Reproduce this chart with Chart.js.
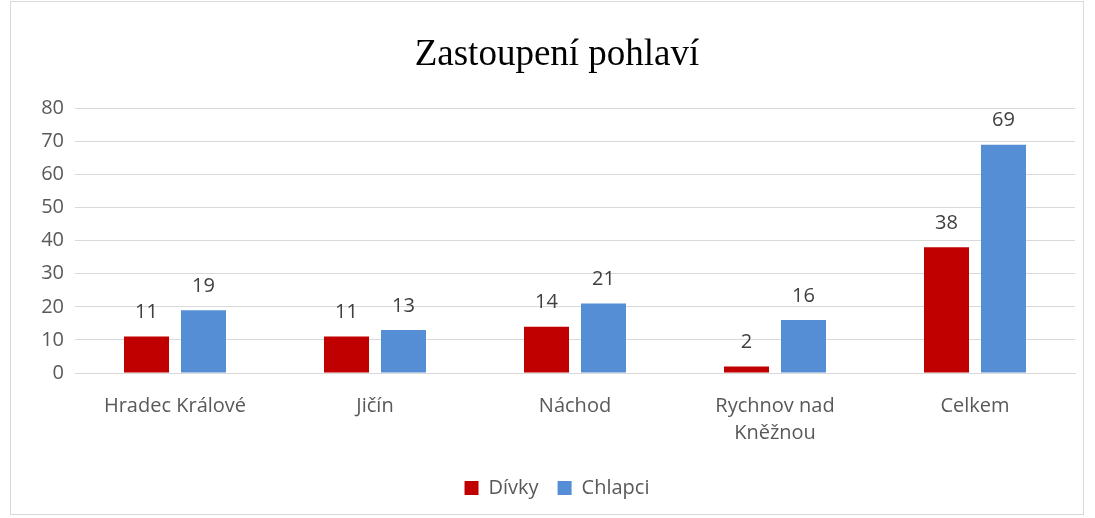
<!DOCTYPE html>
<html>
<head>
<meta charset="utf-8">
<script src="https://cdn.jsdelivr.net/npm/chart.js@4"></script>
<style>
  html, body { margin: 0; padding: 0; background: #ffffff; }
  #wrap { position: absolute; left: 0; top: 0; width: 1095px; height: 518px; }
  #frame { position: absolute; left: 10px; top: 1px; width: 1074px; height: 514px; border: 1px solid #d9d9d9; box-sizing: border-box; pointer-events: none; }
</style>
</head>
<body>
<div id="wrap">
  <canvas id="c" width="1095" height="518"></canvas>
  <div id="frame"></div>
</div>
<script>
const categories = [["Hradec Králové"], ["Jičín"], ["Náchod"], ["Rychnov nad", "Kněžnou"], ["Celkem"]];
const divky = [11, 11, 14, 2, 38];
const chlapci = [19, 13, 21, 16, 69];
const yTicks = [0, 10, 20, 30, 40, 50, 60, 70, 80];
const chartTitle = "Zastoupení pohlaví";

const labelFont = '"Open Sans", "Liberation Sans", sans-serif';

const valueLabels = {
  id: 'valueLabels',
  afterDatasetsDraw(chart) {
    const ctx = chart.ctx;
    ctx.save();
    ctx.font = '20px ' + labelFont;
    ctx.fillStyle = '#404040';
    ctx.textAlign = 'center';
    ctx.textBaseline = 'bottom';
    chart.data.datasets.forEach((ds, i) => {
      const meta = chart.getDatasetMeta(i);
      meta.data.forEach((bar, j) => {
        ctx.fillText(String(ds.data[j]), bar.x, bar.y - 14);
      });
    });
    ctx.restore();
  }
};

new Chart(document.getElementById('c'), {
  type: 'bar',
  data: {
    labels: categories,
    datasets: [
      { label: 'Dívky', data: divky, backgroundColor: '#C00000', borderWidth: 0 },
      { label: 'Chlapci', data: chlapci, backgroundColor: '#558ED5', borderWidth: 0 }
    ]
  },
  options: {
    responsive: false,
    animation: false,
    devicePixelRatio: 1,
    categoryPercentage: 0.57,
    barPercentage: 0.79,
    layout: { padding: { left: 39, right: 20, top: 0, bottom: 10 } },
    plugins: {
      title: {
        display: true,
        text: chartTitle,
        color: '#000000',
        font: { family: '"Liberation Serif", "Times New Roman", serif', size: 37, weight: 'normal', lineHeight: 1.2 },
        padding: { top: 33, bottom: 31 }
      },
      legend: {
        position: 'bottom',
        labels: {
          color: '#595959',
          font: { family: labelFont, size: 20 },
          boxWidth: 14,
          boxHeight: 14,
          padding: 19
        }
      },
      tooltip: { enabled: false }
    },
    scales: {
      x: {
        afterFit(scale) { scale.height = 86; },
        grid: { display: false, drawTicks: false },
        border: { display: true, color: '#d9d9d9', width: 1 },
        ticks: {
          color: '#595959',
          font: { family: labelFont, size: 20, lineHeight: 1.35 },
          padding: 20,
          maxRotation: 0,
          autoSkip: false
        }
      },
      y: {
        min: 0,
        max: 80,
        afterBuildTicks(scale) { scale.ticks = yTicks.map(v => ({ value: v })); },
        afterFit(scale) { scale.width = 36; },
        grid: { color: '#d9d9d9', drawTicks: false, lineWidth: 1 },
        border: { display: false },
        ticks: {
          color: '#595959',
          font: { family: labelFont, size: 20 },
          padding: 11
        }
      }
    }
  },
  plugins: [valueLabels]
});
</script>
</body>
</html>
